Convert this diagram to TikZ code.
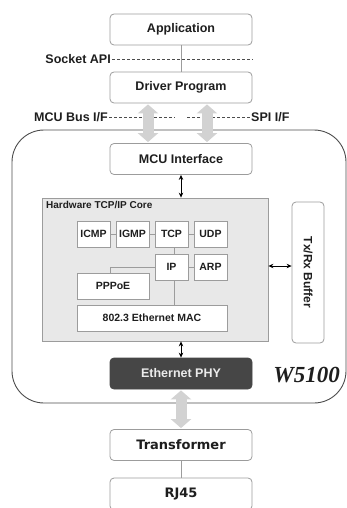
\documentclass[tikz,border=0pt]{standalone}
\usepackage{fontspec}
\setmainfont{Liberation Sans}
\newfontfamily\dejavu{DejaVu Sans}
\newfontfamily\chipfont{Liberation Serif}
\usetikzlibrary{arrows.meta, positioning, calc}
\definecolor{mBoxLine}{HTML}{9C9C9C}
\definecolor{mCore}{HTML}{E8E8E8}
\definecolor{mPhy}{HTML}{464646}
\definecolor{mBigArrow}{HTML}{D2D2D2}
\definecolor{mText}{HTML}{1E1E1E}

\begin{document}
\begin{tikzpicture}[x=1pt, y=-1pt, text=mText,
    layerbox/.style={draw=mBoxLine, fill=white, rounded corners=4pt, line width=0.8pt,
      minimum width=142pt, minimum height=31pt, inner sep=0pt,
      font=\bfseries\fontsize{12.5}{14}\selectfont},
    protobox/.style={draw=mBoxLine, fill=white, line width=0.8pt, minimum width=33pt,
      minimum height=26pt, inner sep=0pt, font=\bfseries\fontsize{10.5}{12}\selectfont},
    apilabel/.style={font=\bfseries\fontsize{12.5}{14}\selectfont, inner sep=1pt},
    apidash/.style={dash pattern=on 3pt off 2pt, draw=black!70, line width=0.6pt},
    thinlink/.style={draw=mBoxLine, line width=0.8pt},
    dblarrow/.style={{Stealth[length=5pt,width=4.5pt]}-{Stealth[length=5pt,width=4.5pt]}, line width=0.8pt, black},
    bigarrow/.style={{Triangle[length=9pt,width=20pt]}-{Triangle[length=9pt,width=20pt]}, line width=11pt, mBigArrow}]
  \useasboundingbox (0,0) rectangle (347,508);

  % chip outline
  \node[draw=black!70, line width=0.9pt, rounded corners=32pt, minimum width=334pt,
    minimum height=273pt, inner sep=0pt] (chip) at (179,266.5) {};

  % host side
  \node[layerbox] (app) at (181,29.5) {Application};
  \node[layerbox] (driver) at (181,87.5) {Driver Program};
  \draw[thinlink] (app.south) -- (driver.north);
  \node[apilabel, anchor=east] (sock) at (112,59) {Socket API};
  \draw[apidash] (sock.east) -- (sock.east -| app.east);

  \node[apilabel, anchor=east] (mcubus) at (109,117) {MCU Bus I/F};
  \node[apilabel, anchor=west] (spi) at (250,117) {SPI I/F};
  \draw[apidash] (mcubus.east) -- ++(66,0);
  \draw[apidash] (spi.west) -- ++(-63,0);

  \node[layerbox] (mcu) at (181,159) {MCU Interface};
  \draw[bigarrow] ($(driver.south)+(-33,1)$) -- ($(mcu.north)+(-33,-1)$);
  \draw[bigarrow] ($(driver.south)+(26,1)$) -- ($(mcu.north)+(26,-1)$);

  % hardware core
  \node[draw=mBoxLine, fill=mCore, line width=0.8pt, minimum width=226pt,
    minimum height=143pt, inner sep=0pt] (core) at (155,269.5) {};
  \node[anchor=north west, inner sep=0pt, font=\bfseries\fontsize{10}{12}\selectfont]
    (coretitle) at (46,201) {Hardware TCP/IP Core};
  \draw[dblarrow] (mcu.south) -- (mcu.south |- core.north);

  \foreach \name [count=\i from 0] in {ICMP,IGMP,TCP,UDP} {
    \node[protobox] (p\i) at (93.5+\i*39,234) {\name};
  }
  \foreach \i [evaluate=\i as \j using int(\i+1)] in {0,1,2} {
    \draw[thinlink] (p\i.east) -- (p\j.west);
  }
  \node[protobox] (ip) at (171.5,267) {IP};
  \node[protobox] (arp) at (210.5,267) {ARP};
  \node[protobox, minimum width=72pt] (pppoe) at (113,286) {PPPoE};
  \node[protobox, minimum width=150pt] (mac) at (152,318) {802.3 Ethernet MAC};
  \draw[thinlink] ($(p2.south)+(3,0)$) -- ($(ip.north)+(3,0)$);
  \draw[thinlink] (ip.east) -- (arp.west);
  \draw[thinlink] (ip.west) -| ($(pppoe.north)+(-3,0)$);
  \draw[thinlink] ($(ip.south)+(3,0)$) -- ($(ip.south |- mac.north)+(3,0)$);

  % buffer
  \node[draw=mBoxLine, fill=white, rounded corners=4pt, line width=0.8pt, rotate=-90,
    minimum width=141pt, minimum height=32pt, inner sep=0pt,
    font=\bfseries\fontsize{12}{14}\selectfont] (buf) at (308,272.5) {Tx/Rx Buffer};
  \draw[dblarrow] ($(core.east)+(0,-3.5)$) -- ($(core.east -| buf.south)+(0,-3.5)$);

  % phy
  \node[layerbox, fill=mPhy, draw=mPhy, text=white!92!black] (phy) at (181,373.5) {Ethernet PHY};
  \draw[dblarrow] (phy.north) -- (phy.north |- core.south);
  \node[anchor=east, inner sep=0pt, font=\chipfont\bfseries\itshape\fontsize{23}{26}\selectfont]
    (w5100) at (340,375) {W5100};

  % line side
  \node[layerbox, font=\dejavu\bfseries\fontsize{13}{15}\selectfont] (trans) at (181,445) {Transformer};
  \node[layerbox, font=\dejavu\bfseries\fontsize{13}{15}\selectfont, minimum height=32pt] (rj45) at (181,494) {RJ45};
  \draw[bigarrow] ($(phy.south)+(0,1)$) -- ($(trans.north)+(0,-1)$);
  \draw[thinlink] (trans.south) -- (rj45.north);
\end{tikzpicture}
\end{document}
